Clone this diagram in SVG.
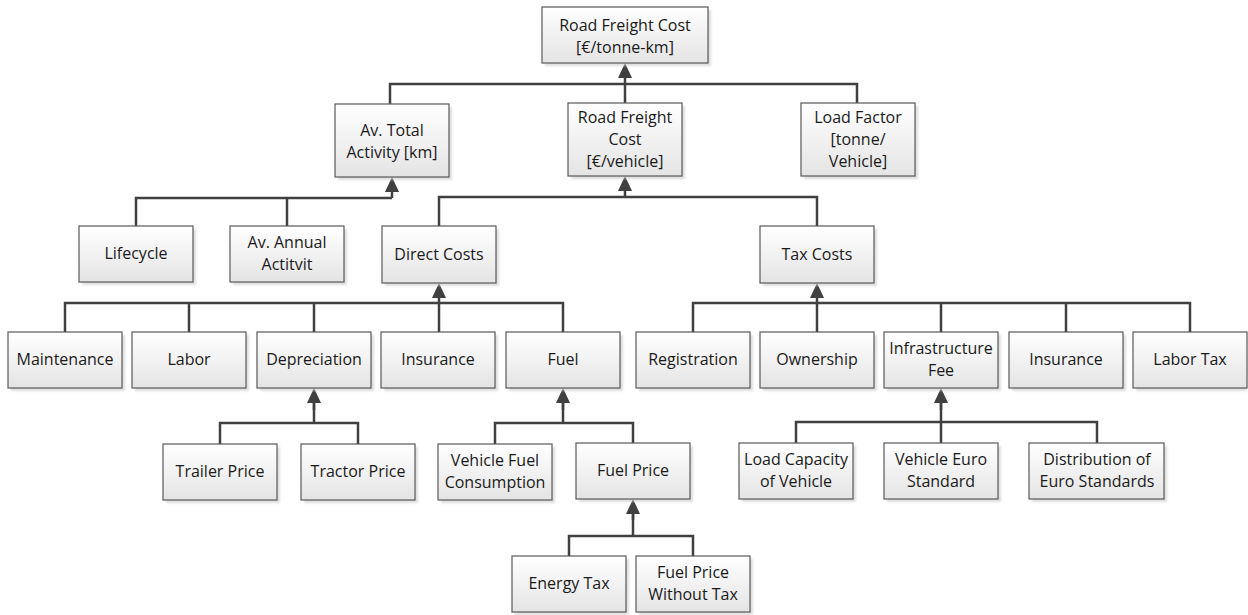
<svg xmlns="http://www.w3.org/2000/svg" width="1248" height="615" viewBox="0 0 1248 615">
  <style>
    .box { fill: url(#boxFill); stroke: #595959; stroke-width: 1.2; }
    .shadow { fill: #c8c8c8; opacity: 0.6; filter: url(#soft); }
    .label { font-family: "Open Sans", "Liberation Sans", sans-serif; font-size: 16px; fill: #1a1a1a; text-anchor: middle; }
    .wire { fill: none; stroke: #404040; stroke-width: 2.5; }
    .arrow { marker-end: url(#head); }
  </style>
  <defs>
    <linearGradient id="boxFill" x1="0" y1="0" x2="0" y2="1">
      <stop offset="0" stop-color="#ffffff"/>
      <stop offset="1" stop-color="#e4e4e4"/>
    </linearGradient>
    <filter id="soft" x="-10%" y="-10%" width="120%" height="120%">
      <feGaussianBlur stdDeviation="1"/>
    </filter>
    <marker id="head" markerUnits="userSpaceOnUse" markerWidth="15" markerHeight="14" refX="0" refY="7" orient="auto">
      <path d="M0,0 L15,7 L0,14 z" fill="#404040"/>
    </marker>
  </defs>

  <!-- connectors -->
  <g id="connectors">
    <!-- into Road Freight Cost [€/tonne-km] -->
    <path class="wire" d="M390,104 V84 H857 V103 M625,84 V103"/>
    <path class="wire arrow" d="M625,84 V78"/>
    <!-- into Av. Total Activity -->
    <path class="wire" d="M136,226 V198 H392 M287,198 V226"/>
    <path class="wire arrow" d="M392,198 V192"/>
    <!-- into Road Freight Cost [€/vehicle] -->
    <path class="wire" d="M439,226 V197 H817 V226"/>
    <path class="wire arrow" d="M625,197 V191"/>
    <!-- into Direct Costs -->
    <path class="wire" d="M65,332 V303 H563 V332 M189,303 V332 M314,303 V332 M439,303 V332"/>
    <path class="wire arrow" d="M439,303 V298"/>
    <!-- into Tax Costs -->
    <path class="wire" d="M693,332 V303 H1190 V332 M941,303 V332 M1066,303 V332 M817,303 V332"/>
    <path class="wire arrow" d="M817,303 V298"/>
    <!-- into Depreciation -->
    <path class="wire" d="M220,444 V423 H358 V444 M314,423 V403"/>
    <path class="wire arrow" d="M314,410 V403"/>
    <!-- into Fuel -->
    <path class="wire" d="M495,444 V423 H633 V443 M563,423 V403"/>
    <path class="wire arrow" d="M563,410 V403"/>
    <!-- into Fuel Price -->
    <path class="wire" d="M569,556 V536 H693 V556 M633,536 V514"/>
    <path class="wire arrow" d="M633,520 V514"/>
    <!-- into Infrastructure Fee -->
    <path class="wire" d="M796,443 V422 H1097 V443 M941,443 V403"/>
    <path class="wire arrow" d="M941,410 V403"/>
  </g>

  <!-- level 0 -->
  <g id="road-freight-cost-tkm">
    <rect class="shadow" x="545" y="10" width="166" height="56"/>
    <rect class="box" x="542" y="7" width="166" height="56"/>
    <text class="label" x="625" y="31">Road Freight Cost</text>
    <text class="label" x="625" y="53">[€/tonne-km]</text>
  </g>

  <!-- level 1 -->
  <g id="av-total-activity">
    <rect class="shadow" x="338" y="107" width="114" height="73"/>
    <rect class="box" x="335" y="104" width="114" height="73"/>
    <text class="label" x="392" y="136">Av. Total</text>
    <text class="label" x="392" y="158">Activity [km]</text>
  </g>
  <g id="road-freight-cost-vehicle">
    <rect class="shadow" x="571" y="106" width="114" height="73"/>
    <rect class="box" x="568" y="103" width="114" height="73"/>
    <text class="label" x="625" y="123">Road Freight</text>
    <text class="label" x="625" y="145">Cost</text>
    <text class="label" x="625" y="167">[€/vehicle]</text>
  </g>
  <g id="load-factor">
    <rect class="shadow" x="804" y="106" width="114" height="73"/>
    <rect class="box" x="801" y="103" width="114" height="73"/>
    <text class="label" x="858" y="123">Load Factor</text>
    <text class="label" x="858" y="145">[tonne/</text>
    <text class="label" x="858" y="167">Vehicle]</text>
  </g>

  <!-- level 2 -->
  <g id="lifecycle">
    <rect class="shadow" x="82" y="229" width="114" height="56"/>
    <rect class="box" x="79" y="226" width="114" height="56"/>
    <text class="label" x="136" y="259">Lifecycle</text>
  </g>
  <g id="av-annual-activity">
    <rect class="shadow" x="233" y="229" width="114" height="56"/>
    <rect class="box" x="230" y="226" width="114" height="56"/>
    <text class="label" x="287" y="248">Av. Annual</text>
    <text class="label" x="287" y="270">Actitvit</text>
  </g>
  <g id="direct-costs">
    <rect class="shadow" x="385" y="229" width="114" height="57"/>
    <rect class="box" x="382" y="226" width="114" height="57"/>
    <text class="label" x="439" y="260">Direct Costs</text>
  </g>
  <g id="tax-costs">
    <rect class="shadow" x="763" y="229" width="114" height="57"/>
    <rect class="box" x="760" y="226" width="114" height="57"/>
    <text class="label" x="817" y="260">Tax Costs</text>
  </g>

  <!-- level 3 -->
  <g id="maintenance">
    <rect class="shadow" x="11" y="335" width="114" height="56"/>
    <rect class="box" x="8" y="332" width="114" height="56"/>
    <text class="label" x="65" y="365">Maintenance</text>
  </g>
  <g id="labor">
    <rect class="shadow" x="135" y="335" width="114" height="56"/>
    <rect class="box" x="132" y="332" width="114" height="56"/>
    <text class="label" x="189" y="365">Labor</text>
  </g>
  <g id="depreciation">
    <rect class="shadow" x="260" y="335" width="114" height="56"/>
    <rect class="box" x="257" y="332" width="114" height="56"/>
    <text class="label" x="314" y="365">Depreciation</text>
  </g>
  <g id="insurance-direct">
    <rect class="shadow" x="384" y="335" width="114" height="56"/>
    <rect class="box" x="381" y="332" width="114" height="56"/>
    <text class="label" x="438" y="365">Insurance</text>
  </g>
  <g id="fuel">
    <rect class="shadow" x="509" y="335" width="114" height="56"/>
    <rect class="box" x="506" y="332" width="114" height="56"/>
    <text class="label" x="563" y="365">Fuel</text>
  </g>
  <g id="registration">
    <rect class="shadow" x="639" y="335" width="114" height="56"/>
    <rect class="box" x="636" y="332" width="114" height="56"/>
    <text class="label" x="693" y="365">Registration</text>
  </g>
  <g id="ownership">
    <rect class="shadow" x="763" y="335" width="114" height="56"/>
    <rect class="box" x="760" y="332" width="114" height="56"/>
    <text class="label" x="817" y="365">Ownership</text>
  </g>
  <g id="infrastructure-fee">
    <rect class="shadow" x="887" y="335" width="114" height="56"/>
    <rect class="box" x="884" y="332" width="114" height="56"/>
    <text class="label" x="941" y="354">Infrastructure</text>
    <text class="label" x="941" y="376">Fee</text>
  </g>
  <g id="insurance-tax">
    <rect class="shadow" x="1012" y="335" width="114" height="56"/>
    <rect class="box" x="1009" y="332" width="114" height="56"/>
    <text class="label" x="1066" y="365">Insurance</text>
  </g>
  <g id="labor-tax">
    <rect class="shadow" x="1136" y="335" width="111" height="56"/>
    <rect class="box" x="1133" y="332" width="114" height="56"/>
    <text class="label" x="1190" y="365">Labor Tax</text>
  </g>

  <!-- level 4 -->
  <g id="trailer-price">
    <rect class="shadow" x="166" y="447" width="114" height="56"/>
    <rect class="box" x="163" y="444" width="114" height="56"/>
    <text class="label" x="220" y="477">Trailer Price</text>
  </g>
  <g id="tractor-price">
    <rect class="shadow" x="304" y="447" width="114" height="56"/>
    <rect class="box" x="301" y="444" width="114" height="56"/>
    <text class="label" x="358" y="477">Tractor Price</text>
  </g>
  <g id="vehicle-fuel-consumption">
    <rect class="shadow" x="441" y="447" width="114" height="56"/>
    <rect class="box" x="438" y="444" width="114" height="56"/>
    <text class="label" x="495" y="466">Vehicle Fuel</text>
    <text class="label" x="495" y="488">Consumption</text>
  </g>
  <g id="fuel-price">
    <rect class="shadow" x="579" y="446" width="114" height="56"/>
    <rect class="box" x="576" y="443" width="114" height="56"/>
    <text class="label" x="633" y="476">Fuel Price</text>
  </g>
  <g id="load-capacity">
    <rect class="shadow" x="742" y="446" width="114" height="56"/>
    <rect class="box" x="739" y="443" width="114" height="56"/>
    <text class="label" x="796" y="465">Load Capacity</text>
    <text class="label" x="796" y="487">of Vehicle</text>
  </g>
  <g id="vehicle-euro-standard">
    <rect class="shadow" x="887" y="446" width="114" height="56"/>
    <rect class="box" x="884" y="443" width="114" height="56"/>
    <text class="label" x="941" y="465">Vehicle Euro</text>
    <text class="label" x="941" y="487">Standard</text>
  </g>
  <g id="distribution-euro-standards">
    <rect class="shadow" x="1032" y="446" width="135" height="56"/>
    <rect class="box" x="1029" y="443" width="135" height="56"/>
    <text class="label" x="1097" y="465">Distribution of</text>
    <text class="label" x="1097" y="487">Euro Standards</text>
  </g>

  <!-- level 5 -->
  <g id="energy-tax">
    <rect class="shadow" x="515" y="559" width="114" height="56"/>
    <rect class="box" x="512" y="556" width="114" height="56"/>
    <text class="label" x="569" y="589">Energy Tax</text>
  </g>
  <g id="fuel-price-without-tax">
    <rect class="shadow" x="639" y="559" width="114" height="56"/>
    <rect class="box" x="636" y="556" width="114" height="56"/>
    <text class="label" x="693" y="578">Fuel Price</text>
    <text class="label" x="693" y="600">Without Tax</text>
  </g>
</svg>
